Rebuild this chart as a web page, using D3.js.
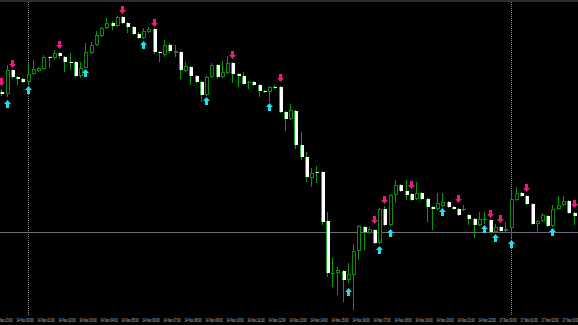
<!DOCTYPE html>
<html>
<head>
<meta charset="utf-8">
<script src="https://cdn.jsdelivr.net/npm/d3@7"></script>
<style>
  html, body { margin: 0; padding: 0; background: #000; }
  svg { display: block; }
</style>
</head>
<body>
<script>
// M15 bars, first bar is 13 Nov 22:45 (index -5), bar 0 = 14 Nov 00:00
var firstBar = -5;

var open = [308,306,330,323,321,318,326,329,331,343,
    342,347,343,338,338,324,332,347,355,364,
    372,377,374,383,377,373,366,362,368,371,
    348,345,355,347,348,329,333,324,318,305,
    323,335,323,327,337,326,324,317,318,315,
    309,308,313,313,288,281,289,255,243,222,
    228,228,179,126,127,129,120,125,149,173,
    167,170,157,191,175,205,215,209,206,201,
    207,201,193,191,194,198,193,191,190,185,
    181,175,180,180,168,173,169,172,200,207,
    204,196,176,179,184,174,191,195,199,187,184];

var high = [311,335,331,324,322,337,340,333,345,344,
    350,348,344,347,339,338,357,358,369,373,
    382,379,384,384,378,374,368,372,373,372,
    349,360,357,355,349,338,334,325,319,324,
    337,336,339,344,338,327,328,319,319,316,
    310,314,315,314,289,296,290,268,248,232,
    234,229,188,142,133,130,137,156,175,174,
    173,171,192,194,206,220,216,220,207,218,
    208,202,194,207,207,199,194,192,195,186,
    182,188,188,181,176,174,178,209,213,208,
    205,197,180,187,185,195,204,204,200,188,191];

var low = [304,303,321,315,317,316,325,328,330,332,
    340,342,328,330,323,322,332,346,354,363,
    371,370,373,376,367,365,361,361,367,346,
    338,343,347,343,321,328,315,317,298,304,
    322,321,322,326,317,313,315,311,314,303,
    307,298,311,287,269,280,251,240,218,213,
    217,175,123,113,105,98,117,90,140,150,
    166,156,156,174,174,197,208,200,199,200,
    200,178,170,190,193,192,190,184,189,175,
    162,174,176,167,167,168,168,162,199,203,
    195,175,169,178,173,173,190,194,186,175,183];

var close = [306,330,323,321,318,326,331,332,343,342,
    347,344,338,337,324,332,348,355,365,372,
    377,374,383,377,373,366,362,369,371,348,
    347,355,349,349,330,334,324,318,305,323,
    335,323,328,337,326,324,316,318,315,309,
    308,313,312,288,281,290,255,243,223,227,
    227,178,127,127,130,120,126,149,174,168,
    171,157,191,175,205,215,209,205,200,207,
    201,193,191,197,198,193,191,185,191,181,
    175,181,181,168,173,169,171,201,207,204,
    196,176,179,185,174,191,195,199,187,184,189];

// signal arrows: bar index and price of the arrow tip
var sellBars   = [-5, -3, 6, 18, 24, 39, 48, 66, 68, 73, 82, 88, 90, 95, 104];
var sellPrices = [314, 332, 351, 386, 373, 341, 318, 176, 196, 211, 197, 182, 177, 208, 192];
var buyBars    = [-4, 0, 11, 22, 34, 46, 61, 67, 69, 79, 87, 89, 92, 100];
var buyPrices  = [300, 314, 331, 359, 303, 297, 112, 154, 171, 192, 175, 166, 160, 172];

var dayStarts = [0, 92];
var levelLine = 168;

var tickBars = [-4,0,4,8,12,16,20,24,28,32,36,40,44,48,52,56,60,64,68,72,76,80,84,88,92,96,100,104];
var tickLabels = ["13 Nov 23:00","14 Nov 00:00","14 Nov 01:00","14 Nov 02:00","14 Nov 03:00",
    "14 Nov 04:00","14 Nov 05:00","14 Nov 06:00","14 Nov 07:00","14 Nov 08:00","14 Nov 09:00",
    "14 Nov 10:00","14 Nov 11:00","14 Nov 12:00","14 Nov 13:00","14 Nov 14:00","14 Nov 15:00",
    "14 Nov 16:00","14 Nov 17:00","14 Nov 18:00","14 Nov 19:00","14 Nov 20:00","14 Nov 21:00",
    "14 Nov 22:00","17 Nov 00:00","17 Nov 01:00","17 Nov 02:00","17 Nov 03:00"];

var width = 578, height = 325, plotBottom = 316;

var x = d3.scaleLinear().domain([0, 92]).range([27.5, 510.5]);
var y = d3.scaleLinear().domain([84, 400]).range([plotBottom, 0]);

function cx(k) { return Math.round(x(k)); }

var bars = open.map(function(o, i) {
    return {k: i + firstBar, o: o, h: high[i], l: low[i], c: close[i]};
});

var svg = d3.select("body")
    .append("svg")
    .attr("width", width)
    .attr("height", height)
    .style("background", "#000");

// top strip
svg.append("rect")
    .attr("x", 0).attr("y", 0)
    .attr("width", width).attr("height", 2)
    .attr("fill", "#2c2c2c");

// day separators
svg.selectAll(".sep")
    .data(dayStarts)
    .enter()
    .append("line")
    .attr("class", "sep")
    .attr("x1", function(d) { return cx(d) + 0.5; })
    .attr("x2", function(d) { return cx(d) + 0.5; })
    .attr("y1", 2)
    .attr("y2", plotBottom)
    .attr("stroke", "#8a8a8a")
    .attr("stroke-width", 1)
    .attr("stroke-dasharray", "1,1");

// horizontal level
svg.append("line")
    .attr("x1", 0).attr("x2", width)
    .attr("y1", Math.round(y(levelLine)) + 0.5)
    .attr("y2", Math.round(y(levelLine)) + 0.5)
    .attr("stroke", "#6c6c7c")
    .attr("stroke-width", 1);

var candle = svg.selectAll(".candle")
    .data(bars)
    .enter()
    .append("g")
    .attr("class", "candle");

candle.append("line")
    .attr("x1", function(d) { return cx(d.k) + 0.5; })
    .attr("x2", function(d) { return cx(d.k) + 0.5; })
    .attr("y1", function(d) { return y(d.h); })
    .attr("y2", function(d) { return y(d.l); })
    .attr("stroke", "#00a000")
    .attr("stroke-width", 1);

candle.each(function(d) {
    var g = d3.select(this);
    var top = y(Math.max(d.o, d.c));
    var bot = y(Math.min(d.o, d.c));
    var h = Math.max(1, bot - top);
    var c = cx(d.k);
    if (d.c < d.o) {
        g.append("rect")
            .attr("x", c - 1).attr("y", top)
            .attr("width", 4).attr("height", h)
            .attr("fill", "#1fae1f");
        g.append("rect")
            .attr("x", c).attr("y", top)
            .attr("width", 3).attr("height", h)
            .attr("fill", "#ffffff");
    } else if (h <= 1) {
        g.append("rect")
            .attr("x", c - 1).attr("y", top)
            .attr("width", 4).attr("height", 1)
            .attr("fill", "#00a000");
    } else {
        g.append("rect")
            .attr("x", c - 0.5).attr("y", top + 0.5)
            .attr("width", 3).attr("height", h - 1)
            .attr("fill", "#000")
            .attr("stroke", "#0a8a0a")
            .attr("stroke-width", 1);
    }
});

// down arrows (tip at bottom)
svg.selectAll(".sell")
    .data(sellBars)
    .enter()
    .append("path")
    .attr("class", "sell")
    .attr("transform", function(d, i) {
        return "translate(" + (cx(d) + 0.5) + "," + y(sellPrices[i]) + ")";
    })
    .attr("d", "M-1.5,-8 h3 v4 h2 l-3.5,4 l-3.5,-4 h2 z")
    .attr("fill", "#f0187f");

// up arrows (tip at top)
svg.selectAll(".buy")
    .data(buyBars)
    .enter()
    .append("path")
    .attr("class", "buy")
    .attr("transform", function(d, i) {
        return "translate(" + (cx(d) + 0.5) + "," + y(buyPrices[i]) + ")";
    })
    .attr("d", "M0,0 l3.5,4 h-2 v4 h-3 v-4 h-2 z")
    .attr("fill", "#1ee0ee");

// time axis labels, squeezed like the terminal's small font
svg.selectAll(".tick")
    .data(tickBars)
    .enter()
    .append("text")
    .attr("class", "tick")
    .attr("x", function(d) { return x(d) - 11; })
    .attr("y", 322)
    .attr("font-family", "Liberation Sans")
    .attr("font-size", 5)
    .attr("textLength", 17)
    .attr("lengthAdjust", "spacingAndGlyphs")
    .attr("fill", "#c8c8c8")
    .text(function(d, i) { return tickLabels[i]; });
</script>
</body>
</html>
